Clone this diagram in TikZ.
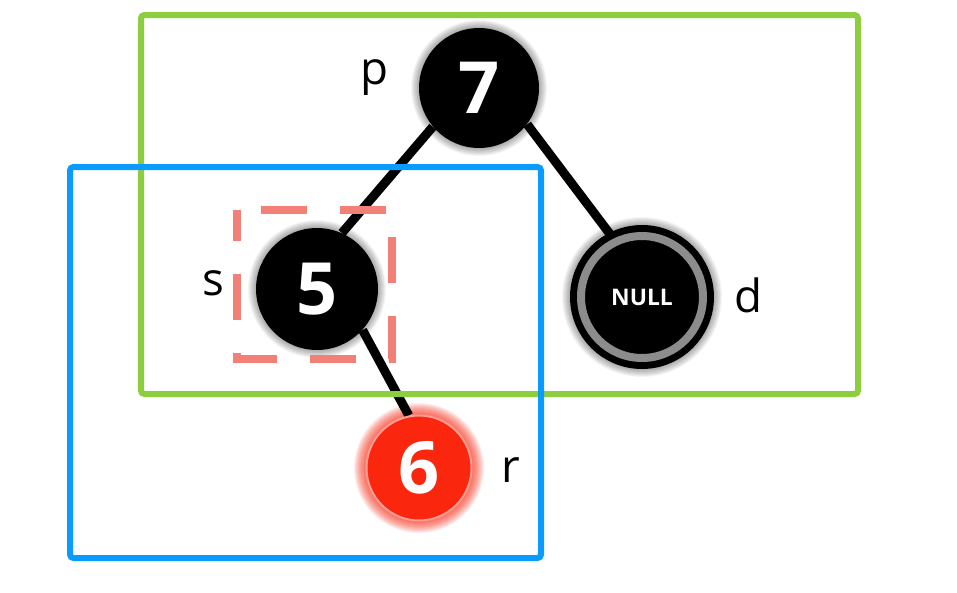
\documentclass[tikz,border=0pt]{standalone}
\usepackage{fontspec}
\setmainfont{Open Sans}
\usetikzlibrary{positioning, backgrounds}
\definecolor{boxgreen}{RGB}{141,206,63}
\definecolor{boxblue}{RGB}{10,155,255}
\definecolor{hlred}{RGB}{242,128,118}
\definecolor{nodered}{RGB}{250,38,14}
\tikzset{
  blk/.style={circle, fill=black, text=white, inner sep=0pt, minimum size=#1,
              font=\bfseries\fontsize{41}{42}\selectfont},
  rednd/.style={circle, fill=nodered, draw=nodered!45!white, line width=0.04cm,
                text=white, inner sep=0pt, minimum size=2.1cm,
                font=\bfseries\fontsize{41}{42}\selectfont},
  nullnd/.style={circle, fill=black, draw=black, line width=0.14cm, double=gray!90,
                 double distance=0.16cm, minimum size=2.44cm, text=white,
                 font=\bfseries\fontsize{13}{13}\selectfont},
  tag/.style={font=\fontsize{26}{28}\selectfont},
  lnk/.style={line width=0.18cm, black},
  frame/.style={draw=#1, line width=0.12cm, rounded corners=0.07cm},
  hl/.style={draw=hlred, line width=0.16cm, dash pattern=on 0.92cm off 0.66cm, dash phase=0.3cm}
}

\begin{document}
\begin{tikzpicture}[x=0.02cm, y=-0.02cm]
  \useasboundingbox (0,0) rectangle (957,592);
  % tree nodes
  \node[blk=2.4cm] (n7) at (479,88) {7};
  \node[blk=2.44cm] (n5) at (317,289) {5};
  \node[nullnd] (nl) at (642,297) {NULL};
  \node[rednd] (n6) at (419,468) {6};
  % names
  \node[tag] (lp) at (374,78) {p};
  \node[tag] (ls) at (213,283) {s};
  \node[tag] (ld) at (748,295) {d};
  \node[tag] (lr) at (511,470) {r};
  \begin{scope}[on background layer]
    \fill[white] (0,0) rectangle (957,592);
    \foreach \n/\s in {n7/1.2,n5/1.22,nl/1.44}
      \foreach \d in {0.02,0.04,...,0.16}
        \fill[black, opacity=0.045] (\n) circle (\s cm + \d cm);
    \foreach \d in {0.02,0.04,...,0.26}
      \fill[nodered, opacity=0.08] (n6) circle (1.04cm + \d cm);
    \draw[lnk] (n7.220) -- (n5.66);
    \draw[lnk] (n7.-37) -- (nl.116);
    \draw[lnk] (n5.-42) -- (n6.101);
  \end{scope}
  % highlight and groups
  \draw[hl] (237,210) rectangle (392,359);
  \draw[frame=boxgreen] (141,15) rectangle (858,394);
  \draw[frame=boxblue] (70,167) rectangle (541,558);
\end{tikzpicture}
\end{document}
